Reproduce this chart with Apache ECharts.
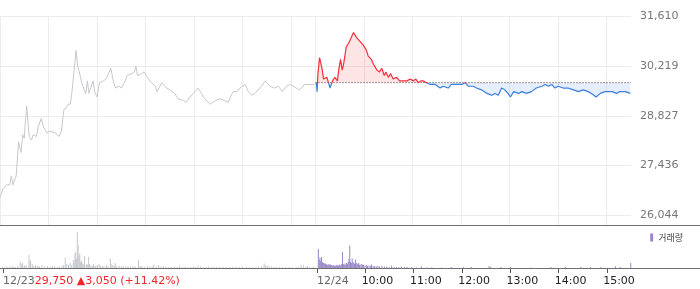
<!DOCTYPE html>
<html><head><meta charset="utf-8">
<script src="https://cdn.jsdelivr.net/npm/echarts@6/dist/echarts.min.js"></script>
<style>html,body{margin:0;padding:0;background:#fff}#c{width:700px;height:289px}</style>
</head><body><div id="c"></div>
<script>
// ---------- data ----------
// minutes after 09:00, previous session (12/23)
const DAY1_MIN = [0,4,8,12,14,16,20,23,26,28,30,31,33,36,39,41,45,47,51,54,58,62,64,68,73,76,79,82,84,87,89,91,94,96,98,101,104,106,108,110,115,117,120,123,128,131,134,137,140,143,147,150,155,157,163,166,168,170,175,178,181,185,192,194,200,206,210,216,220,227,230,235,239,245,249,253,260,266,272,278,282,288,293,299,303,307,311,315,319,323,328,334,339,344,349,354,358,363,369,373,376,383,389];
const DAY1_PRICE = [26550,26800,26900,26900,27150,26900,27150,28100,27800,28300,28200,28550,29100,28250,28150,28300,28250,28500,28750,28500,28350,28400,28450,28350,28250,28400,29000,29050,29150,29150,29500,29550,30650,30200,30050,29750,29550,29450,29800,29450,29800,29500,29350,29750,29800,29850,30000,30150,29800,29600,29650,29600,29800,29950,30000,30050,30200,29950,30000,30050,29950,29800,29650,29500,29750,29600,29550,29450,29300,29250,29200,29350,29450,29600,29450,29300,29150,29250,29300,29250,29200,29500,29500,29650,29700,29500,29400,29450,29550,29650,29800,29650,29600,29650,29500,29650,29700,29650,29550,29600,29700,29700,29700];
// minutes after 09:00, current session (12/24)
const DAY2_MIN = [1,2,3,5,8,10,12,14,16,18,20,21,24,27,29,31,33,35,38,41,43,45,47,49,51,53,55,57,59,61,63,65,67,69,72,76,79,82,85,87,90,93,96,100,104,109,113,117,121,124,127,130,133,137,142,148,154,158,164,168,175,181,185,189,195,199,205,212,218,222,226,230,234,238,241,245,251,255,261,267,273,280,284,288,292,296,300,306,312,319,325,331,337,341,347,352,358,362,367,372,376,383,389];
const DAY2_PRICE = [29750,29500,30000,30450,30150,29850,29800,29900,29750,29600,29550,29800,29900,29800,30150,30400,30100,30300,30750,30850,30950,31050,31150,31150,31000,31050,30900,30950,30800,30750,30650,30500,30450,30400,30250,30100,30050,30150,29950,30050,29900,30000,29850,29900,29800,29800,29800,29850,29800,29850,29750,29800,29800,29750,29700,29700,29600,29650,29600,29700,29700,29700,29750,29650,29650,29600,29550,29450,29400,29450,29400,29600,29550,29450,29350,29500,29450,29500,29450,29500,29600,29650,29700,29650,29700,29600,29650,29600,29600,29550,29500,29550,29500,29450,29350,29450,29500,29500,29500,29450,29500,29500,29450];
// volume (thousand shares)
const VOL1_MIN = [0,3,6,9,12,14,16,19,22,24,25,27,28,30,33,34,35,37,39,41,43,44,46,49,52,56,59,62,65,68,71,74,76,78,80,82,84,86,88,89,90,91,92,93,94,95,96,97,98,99,100,101,102,104,105,106,107,108,110,112,113,115,116,118,120,122,124,126,129,131,134,135,137,139,140,142,145,148,150,153,156,159,162,165,169,171,173,176,180,183,186,188,191,194,197,200,203,206,210,214,217,220,224,227,230,234,237,240,243,246,250,253,256,260,263,266,270,274,278,282,286,290,294,298,303,307,311,315,318,322,325,327,329,331,334,337,340,344,348,352,356,360,365,368,371,374,377,379,382,386];
const VOL1 = [1,1,1,1.5,2,1,1,2,6,4,5,2,3,2,13,6,8,4,2,3,2,2,1.5,3,1.5,2,1,2,1.5,1,1.5,2,3,10.5,4,3,5,3,8,5,14.5,16,9,36,23,12,14.5,6,7.5,5,4,3,12,3,4,3,11,4,3,2,4,2,2,3,4,2,2,1.5,3,2,9.5,4,3,2,5,2,2,1.5,2,1.5,2,1.5,2,1.5,8,2,2,1.5,2,1.5,1.5,3.5,1.5,3,1.5,2,1.5,1,1,1.5,1,2,1,1.5,1,1,1.5,1,2.5,1.5,1,1,1.5,1,1,1,1.5,1,1,1,1.5,1,1,1.5,1,1,1,1,1.5,2,4.5,3,2,2,1.5,1,1,1,1,1,1,1,1,1,3,2.5,1.5,2,1,1];
const VOL2_MIN = [1,2,3,4,5,6,7,8,9,10,11,12,13,14,15,16,17,18,19,20,21,22,23,24,25,26,27,28,29,30,31,32,33,34,35,36,37,38,39,40,41,42,43,44,45,46,47,48,49,50,51,52,53,55,56,57,59,61,62,64,66,67,69,71,73,75,77,80,83,86,89,92,95,98,101,104,108,111,117,123,129,136,142,154,166,181,191,213,215,228,240,265,290,308,327,339,352,370,376,389];
const VOL2 = [19,8,10.5,7,11,6,5,5,4,4.5,3.5,3.5,3,4,3,3.5,3,2.5,2.5,3,2,2,3,2.5,3,2,3.5,3,2.5,4,16,4,3,4.5,3,5,4,6,9,22.5,6,5,9.5,6,5,4,8.5,5,4.5,3.5,5,3,3.5,4,3,3,2.5,3,2,2.5,2,3.5,2,2,1.5,2,1.5,2,1.5,1.5,1,2.5,1,1,1,1.5,1,1,1,0.5,1.5,0.5,1,0.5,1,1,1,2,1,1,1,0.5,1,1,1,1,1,1.5,1,5];

const PREV_CLOSE = 29750;
const PRICE_TICKS = [26044, 27435.5, 28827, 30218.5, 31610];
const PRICE_TICK_LABELS = ['26,044', '27,436', '28,827', '30,219', '31,610'];
const GRID_MINUTES = [0, 60, 120, 180, 240, 300, 360, 390, 450, 510, 570, 630, 690, 750];
const DATE_MINUTES = [0, 390];
const DATE_LABELS = ['12/23', '12/24'];
const HOUR_MINUTES = [450, 510, 570, 630, 690, 750];
const HOUR_LABELS = ['10:00', '11:00', '12:00', '13:00', '14:00', '15:00'];
const PREV_SUMMARY = '29,750 ▲3,050 (+11.42%)';
const VOLUME_NAME = '거래량';

// ---------- layout ----------
const SESSION = 390;           // minutes per session on the axis
const X_MAX = 780;
const PLOT_W = 631;
const MAIN_TOP = 16, MAIN_H = 209;
const VOL_TOP = 225, VOL_H = 43;
const Y_MAX = 31610;
const Y_MIN = PRICE_TICKS[0] - (Y_MAX - PRICE_TICKS[0]) * 9.5 / 199.5;
const FONT = 'DejaVu Sans';
const UP = '#f2303a', DOWN = '#3a7ee0';
// hour labels start ~3.7px left of their tick: label-only axis shifted by that amount
const HOUR_LABEL_SHIFT = 3.7 * X_MAX / PLOT_W;

const day1 = DAY1_MIN.map((m, i) => [m, DAY1_PRICE[i]]);
const day2 = DAY2_MIN.map((m, i) => [SESSION + m, DAY2_PRICE[i]]);
const vol1 = VOL1_MIN.map((m, i) => [m, VOL1[i]]);
const vol2 = VOL2_MIN.map((m, i) => [SESSION + m, VOL2[i]]);
const prevCloseLine = [[SESSION, PREV_CLOSE], [X_MAX, PREV_CLOSE]];

const chart = echarts.init(document.getElementById('c'), null, {renderer: 'canvas'});
chart.setOption({
  animation: false,
  backgroundColor: '#fff',
  textStyle: {fontFamily: FONT},
  grid: [
    {left: 0, width: PLOT_W, top: MAIN_TOP, height: MAIN_H},
    {left: 0, width: PLOT_W, top: VOL_TOP, height: VOL_H}
  ],
  legend: {
    data: [{name: VOLUME_NAME, icon: 'rect'}],
    right: 17, top: 233, itemWidth: 3, itemHeight: 8, padding: 0,
    selectedMode: false,
    textStyle: {fontSize: 9, color: '#444', fontFamily: 'Noto Sans CJK KR'}
  },
  xAxis: [
    {gridIndex: 0, type: 'value', min: 0, max: X_MAX,
     axisLine: {show: false}, axisTick: {show: false, customValues: GRID_MINUTES},
     axisLabel: {show: false},
     splitLine: {show: true, lineStyle: {color: '#ececec', width: 1}}},
    {gridIndex: 1, type: 'value', position: 'bottom', offset: 0, min: 0, max: X_MAX,
     axisLine: {show: false},
     axisTick: {show: true, customValues: DATE_MINUTES.concat(HOUR_MINUTES), length: 5,
                lineStyle: {color: '#555'}},
     axisLabel: {customValues: DATE_MINUTES, align: 'left', margin: 8,
       formatter: function (v) {
         const i = DATE_MINUTES.findIndex(m => Math.abs(m - v) < 0.5);
         if (i === 0) return '{d|' + DATE_LABELS[0] + '}{r|' + PREV_SUMMARY + '}';
         return '{d|' + DATE_LABELS[i] + '}';
       },
       rich: {
         d: {color: '#666', fontSize: 11, fontFamily: FONT},
         r: {color: '#f0252e', fontSize: 11, fontFamily: FONT}
       }},
     splitLine: {show: false}},
    {gridIndex: 1, type: 'value', position: 'bottom', offset: 0,
     min: HOUR_LABEL_SHIFT, max: X_MAX + HOUR_LABEL_SHIFT,
     axisLine: {show: false},
     axisTick: {show: false, customValues: HOUR_MINUTES},
     axisLabel: {customValues: HOUR_MINUTES, align: 'left', margin: 8,
       color: '#222', fontSize: 11, fontFamily: FONT,
       formatter: function (v) {
         const i = HOUR_MINUTES.findIndex(m => Math.abs(m - v) < 0.5);
         return i >= 0 ? HOUR_LABELS[i] : '';
       }},
     splitLine: {show: false}}
  ],
  yAxis: [
    {gridIndex: 0, type: 'value', position: 'right', min: Y_MIN, max: Y_MAX,
     axisLine: {show: false}, axisTick: {show: false, customValues: PRICE_TICKS},
     axisLabel: {customValues: PRICE_TICKS, color: '#777', fontSize: 11, margin: 9,
       formatter: function (v) {
         const i = PRICE_TICKS.findIndex(t => Math.abs(t - v) < 1);
         return i >= 0 ? PRICE_TICK_LABELS[i] : '';
       }},
     splitLine: {show: true, lineStyle: {color: '#ececec', width: 1}}},
    {gridIndex: 1, type: 'value', min: 0, max: VOL_H, show: false}
  ],
  visualMap: {
    type: 'piecewise', show: false, seriesIndex: 1, dimension: 1,
    pieces: [
      {gt: PREV_CLOSE, color: UP},
      {gte: 20000, lte: PREV_CLOSE, color: DOWN},
      {lt: 20000, color: DOWN}
    ]
  },
  series: [
    {type: 'line', xAxisIndex: 0, yAxisIndex: 0, data: day1, symbol: 'none',
     lineStyle: {color: '#c6c8cd', width: 1}, itemStyle: {color: '#c6c8cd'}},
    {type: 'line', xAxisIndex: 0, yAxisIndex: 0, data: day2, symbol: 'none',
     lineStyle: {width: 1.2}, z: 3,
     areaStyle: {origin: PREV_CLOSE, opacity: 0.13}},
    {type: 'line', xAxisIndex: 0, yAxisIndex: 0, data: prevCloseLine, symbol: 'none',
     silent: true, z: 2,
     lineStyle: {type: [1, 2], color: '#333', width: 1}, itemStyle: {color: '#333'}},
    {type: 'bar', xAxisIndex: 1, yAxisIndex: 1, data: vol1, barWidth: 1,
     itemStyle: {color: '#c6c8cc'}},
    {type: 'bar', name: VOLUME_NAME, xAxisIndex: 1, yAxisIndex: 1, data: vol2, barWidth: 1,
     itemStyle: {color: '#9886c6'}}
  ],
  graphic: [
    {type: 'line', silent: true, z: 50,
     shape: {x1: 0, y1: VOL_TOP + 0.5, x2: 700, y2: VOL_TOP + 0.5},
     style: {stroke: '#707070', lineWidth: 1}},
    {type: 'line', silent: true, z: 50,
     shape: {x1: 0, y1: VOL_TOP + VOL_H + 0.5, x2: 700, y2: VOL_TOP + VOL_H + 0.5},
     style: {stroke: '#707070', lineWidth: 1}}
  ]
});
</script></body></html>
